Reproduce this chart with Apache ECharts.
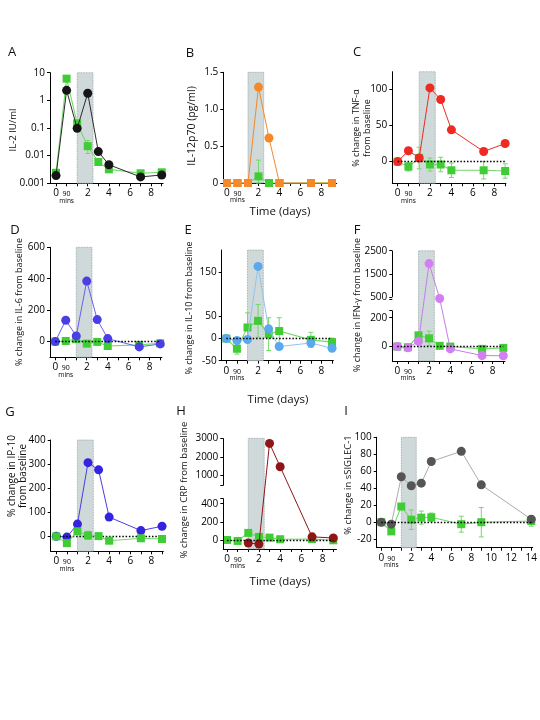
<!DOCTYPE html>
<html><head><meta charset="utf-8">
<script src="https://cdn.jsdelivr.net/npm/echarts@6/dist/echarts.min.js"></script>
<style>html,body{margin:0;padding:0;background:#fff}#c{width:540px;height:720px}</style>
</head><body><div id="c"></div>
<script>
// ---------- time axis (positions on the axis: day 0 = -1, 90 mins = 0, then days) ----------
const timeLabels = ['day 0', '90 mins', 'day 1', 'day 2', 'day 3', 'day 4', 'day 7', 'day 9'];
const timePos = [-1, 0, 1, 2, 3, 4, 7, 9];
const timeLabelsI = ['day 0', '90 mins', 'day 1', 'day 2', 'day 3', 'day 4', 'day 7', 'day 9', 'day 14'];
const timePosI = [-1, 0, 1, 2, 3, 4, 7, 9, 14];
const xTickMarks = [-1, 0, 1, 2, 3, 4, 5, 6, 7, 8, 9];
const xTickMarksI = [-1, 0, 1, 2, 3, 4, 5, 6, 7, 8, 9, 10, 11, 12, 13, 14];
const xTickLabels = [[-1, '0'], [0, '90'], [2, '2'], [4, '4'], [6, '6'], [8, '8']];
const xTickLabelsI = [[-1, '0'], [0, '90'], [2, '2'], [4, '4'], [6, '6'], [8, '8'], [10, '10'], [12, '12'], [14, '14']];
const xUnitLabel = [0, 'mins'];
const shadeWindow = [1, 2.5];

// ---------- A: IL-2 (IU/ml, log) ----------
const il2Patient = [0.0019, 2.3, 0.097, 1.8, 0.014, 0.0047, 0.0017, 0.002];
const il2Green = [0.0024, 6.1, 0.147, 0.022, 0.0059, 0.0032, 0.0023, 0.0025];
const il2GreenLow = [null, null, null, 0.012, null, null, null, 0.0015];
const il2GreenHigh = [null, null, null, 0.035, null, null, null, 0.003];
// ---------- B: IL-12p70 (pg/ml) ----------
const il12Patient = [0, 0, 0, 1.3, 0.61, 0, 0, 0];
const il12Green = [0, 0, 0, 0.09, 0, 0, 0, 0];
const il12GreenLow = [null, null, null, 0, null, null, null, null];
const il12GreenHigh = [null, null, null, 0.31, null, null, null, null];
const il12Ticks = [0, 0.5, 1, 1.5];
const il12TickLabels = ['0', '0.5', '1.0', '1.5'];
// ---------- C: TNF-α ----------
const tnfPatient = [0, 15, 5, 102, 86, 44, 14, 25];
const tnfGreen = [0, -7, 5, -4, -4, -12, -12, -13];
const tnfGreenErr = [0, 6, 15, 9, 10, 10, 12, 10];
const tnfTicks = [0, 50, 100];
// ---------- D: IL-6 ----------
const il6Patient = [0, 136, 36, 385, 140, 19, -34, -15];
const il6Green = [0, 4, 15, -13, -2, -28, -21, -11];
const il6GreenErr = [0, 15, 8, 8, 8, 8, 8, 8];
const il6Ticks = [0, 200, 400, 600];
// ---------- E: IL-10 ----------
const il10Patient = [0, -4.5, -2, 163, 22, -18, -10, -22];
const il10Green = [0, -23, 25, 40, 10, 17, -3, -8];
const il10GreenErr = [0, 12, 33, 37, 37, 30, 17, 9];
const il10Ticks = [-50, 0, 50, 150];
// ---------- F: IFN-γ (broken axis) ----------
const ifnPatient = [0, -9, 37, 1943, 470, -16, -62, -64];
const ifnGreen = [0, -5, 78, 57, 5, 0, -16, -9];
const ifnGreenErr = [0, 5, 10, 50, 8, 5, 5, 5];
const ifnTicks = [0, 200, 500, 1500, 2500];
// ---------- G: IP-10 ----------
const ip10Patient = [0, -3, 51, 306, 276, 80, 24, 42];
const ip10Green = [0, -28, 21, 4, 1, -18, -8, -11];
const ip10GreenErr = [0, 8, 10, 17, 8, 8, 8, 8];
const ip10Ticks = [0, 100, 200, 300, 400];
// ---------- H: CRP (broken axis) ----------
const crpPatient = [null, null, -34, -45, 2727, 1473, 34, 22];
const crpGreen = [0, -11, 78, 34, 26, 8, 10, -4];
const crpGreenErr = [0, 10, 15, 12, 10, 10, 10, 10];
const crpTicks = [0, 200, 400, 1000, 2000, 3000];
// ---------- I: sSIGLEC-1 ----------
const siglecPatient = [0, -2.3, 53.5, 43, 46, 71.5, 83.5, 44, 3.5];
const siglecGreen = [0, -10.8, 18.5, 3, 5.4, 5.8, -2.3, 0, 1.5];
const siglecGreenErr = [0, 3, 3, 11.5, 7.7, 5, 9.4, 17.3, 6.2];
const siglecTicks = [-20, 0, 20, 40, 60, 80, 100];

// ---------- styling / layout ----------
const FONT = '"Open Sans", "Liberation Sans", sans-serif';
const GREEN = '#3fcc35', GREEN_LINE = '#74d86b', SHADE = '#cfd9d9';

function brokenAxis(lowMax, highMin, gap, k) {
  return v => {
    if (v == null) return null;
    if (v <= lowMax) return v;
    if (v < highMin) return lowMax + (v - lowMax) / (highMin - lowMax) * gap;
    return lowMax + gap + (v - highMin) * k;
  };
}
const fF = brokenAxis(250, 500, 94.5, 0.16);
const fH = brokenAxis(460, 460, 141, 0.2055);

const option = {animation: false, backgroundColor: '#fff', grid: [], xAxis: [], yAxis: [], series: [], graphic: []};

function addPanel(p) {
  const gi = option.grid.length;
  const xi = option.xAxis.length;
  const tf = p.transform || (v => v);
  const pos = p.pos || timePos;
  option.grid.push({left: p.box[0], top: p.box[1], width: p.box[2], height: p.box[3], containLabel: false});
  const xLab = new Map(p.xLabels);
  option.xAxis.push({
    gridIndex: gi, type: 'value', position: 'bottom', min: p.xMin, max: p.xMax,
    axisLine: {show: true, onZero: false, lineStyle: {color: '#000', width: 1}},
    axisTick: {show: true, length: 3, customValues: p.xTicks, lineStyle: {color: '#000', width: 1}},
    axisLabel: {
      show: true, interval: 0, customValues: p.xLabels.map(d => d[0]), margin: 5, color: '#000',
      fontFamily: FONT, fontSize: 10, hideOverlap: false, showMinLabel: true, showMaxLabel: true,
      formatter: v => { const t = xLab.get(v); if (v === xUnitLabel[0]) return '{n|' + t + '}'; return t == null ? '' : t; },
      rich: {n: {fontSize: 7, lineHeight: 12, fontFamily: FONT, color: '#000'}}
    },
    splitLine: {show: false}
  });
  // second (label-only) axis carrying the "mins" unit under the 90 label
  option.xAxis.push({
    gridIndex: gi, type: 'value', position: 'bottom', offset: 0, min: p.xMin, max: p.xMax,
    axisLine: {show: false, onZero: false}, axisTick: {show: false}, splitLine: {show: false},
    axisLabel: {show: true, interval: 0, customValues: [xUnitLabel[0]], margin: 14, color: '#000',
      fontFamily: FONT, fontSize: 6.5, formatter: () => xUnitLabel[1], showMinLabel: true, showMaxLabel: true}
  });
  const yLabelPos = p.yTicks ? p.yTicks.map(tf) : undefined;
  const yLabelText = p.yTicks ? (p.yTickLabels || p.yTicks.map(String)) : undefined;
  const ya = {
    gridIndex: gi, type: p.log ? 'log' : 'value', min: p.yMin, max: p.yMax,
    axisLine: {show: !p.segments, onZero: false, lineStyle: {color: '#000', width: 1}},
    axisTick: {show: true, length: 3, lineStyle: {color: '#000', width: 1}},
    axisLabel: {show: true, interval: 0, margin: 5, color: '#000', fontFamily: FONT, fontSize: 10, showMinLabel: true, showMaxLabel: true},
    splitLine: {show: false}
  };
  if (p.log) {
    ya.logBase = 10;
    ya.axisLabel.formatter = v => String(+(+v).toPrecision(2));
  } else {
    ya.axisTick.customValues = yLabelPos.concat(p.extraTicks || []);
    ya.axisLabel.customValues = yLabelPos;
    ya.axisLabel.formatter = v => {
      for (let i = 0; i < yLabelPos.length; i++) if (Math.abs(yLabelPos[i] - v) < 1e-6) return yLabelText[i];
      return '';
    };
  }
  option.yAxis.push(ya);

  // helper series: shaded window, dotted zero line, broken axis segments
  const mlData = [];
  if (p.zeroLine) {
    mlData.push([{coord: [pos[0], tf(0)], lineStyle: {type: [1.5, 1.8], color: '#000', width: 1.4}}, {coord: [pos[pos.length - 1], tf(0)]}]);
  }
  (p.segments || []).forEach(s => {
    mlData.push([{coord: [p.xMin, tf(s[0])], lineStyle: {type: 'solid', color: '#000', width: 1}}, {coord: [p.xMin, tf(s[1])]}]);
  });
  option.series.push({
    type: 'line', xAxisIndex: xi, yAxisIndex: gi, data: [], z: 1, silent: true, clip: false,
    markArea: {silent: true, itemStyle: {color: SHADE, borderColor: '#8e9c9c', borderWidth: 0.8, borderType: 'dotted'},
               data: [[{xAxis: shadeWindow[0]}, {xAxis: shadeWindow[1]}]]},
    markLine: {silent: true, symbol: ['none', 'none'], label: {show: false}, animation: false, data: mlData}
  });

  // error bars for comparator (green) group
  const errData = [];
  pos.forEach((x, i) => {
    if (p.gLow) { if (p.gLow[i] != null) errData.push([x, p.gLow[i], p.gHigh[i]]); }
    else if (p.gErr && p.gErr[i]) errData.push([x, tf(p.green[i] - p.gErr[i]), tf(p.green[i] + p.gErr[i])]);
  });
  option.series.push({
    type: 'custom', xAxisIndex: xi, yAxisIndex: gi, z: 2, silent: true, clip: false,
    data: errData, encode: {x: 0, y: [1, 2]},
    renderItem: (params, api) => {
      const x = api.value(0);
      const a = api.coord([x, api.value(1)]), b = api.coord([x, api.value(2)]);
      const c = 2.5, st = {stroke: GREEN_LINE, lineWidth: 1};
      return {type: 'group', children: [
        {type: 'line', shape: {x1: a[0], y1: a[1], x2: b[0], y2: b[1]}, style: st},
        {type: 'line', shape: {x1: a[0] - c, y1: a[1], x2: a[0] + c, y2: a[1]}, style: st},
        {type: 'line', shape: {x1: b[0] - c, y1: b[1], x2: b[0] + c, y2: b[1]}, style: st}
      ]};
    }
  });

  option.series.push({
    type: 'line', name: 'comparator', xAxisIndex: xi, yAxisIndex: gi, z: p.greenTop ? 5 : 3, silent: true, clip: false,
    data: pos.map((x, i) => [x, tf(p.green[i])]),
    symbol: 'rect', symbolSize: 8, itemStyle: {color: GREEN}, lineStyle: {color: GREEN_LINE, width: 1.1}
  });
  option.series.push({
    type: 'line', name: 'patient', xAxisIndex: xi, yAxisIndex: gi, z: 4, silent: true, clip: false, connectNulls: false,
    data: pos.map((x, i) => [x, tf(p.patient[i])]),
    symbol: p.patientSymbol || 'circle', symbolSize: p.patientSymbolSize || 9,
    itemStyle: {color: p.color}, lineStyle: {color: p.lineColor || p.color, width: 1}
  });
}

addPanel({box: [50, 72.7, 113.1, 110.6], xMin: -1.57, xMax: 9.13, xTicks: xTickMarks, xLabels: xTickLabels,
  log: true, yMin: 0.001, yMax: 10, patient: il2Patient, green: il2Green, gLow: il2GreenLow, gHigh: il2GreenHigh,
  color: '#151515', lineColor: '#2a2a2a'});
addPanel({box: [223.3, 72.3, 113.4, 110.7], xMin: -1.35, xMax: 9.45, xTicks: xTickMarks, xLabels: xTickLabels,
  yMin: 0, yMax: 1.5, yTicks: il12Ticks, yTickLabels: il12TickLabels,
  patient: il12Patient, green: il12Green, gLow: il12GreenLow, gHigh: il12GreenHigh, color: '#f5882b',
  patientSymbol: v => (v[1] === 0 ? 'rect' : 'circle'), patientSymbolSize: v => (v[1] === 0 ? 8 : 9)});
addPanel({box: [392.3, 71.7, 113.6, 111.6], xMin: -1.5, xMax: 9.07, xTicks: xTickMarks, xLabels: xTickLabels,
  yMin: -30, yMax: 124.4, yTicks: tnfTicks, zeroLine: true,
  patient: tnfPatient, green: tnfGreen, gErr: tnfGreenErr, color: '#ee2a22'});
addPanel({box: [50, 247.3, 111.9, 110], xMin: -1.5, xMax: 9.16, xTicks: xTickMarks, xLabels: xTickLabels,
  yMin: -100, yMax: 600, yTicks: il6Ticks, zeroLine: true,
  patient: il6Patient, green: il6Green, gErr: il6GreenErr, color: '#4a3ee6', lineColor: '#6a60ec'});
addPanel({box: [221.7, 250, 111.7, 110.7], xMin: -1.44, xMax: 9.13, xTicks: xTickMarks, xLabels: xTickLabels,
  yMin: -50, yMax: 200, yTicks: il10Ticks, zeroLine: true,
  patient: il10Patient, green: il10Green, gErr: il10GreenErr, color: '#5aa8ee', lineColor: '#92c4f0'});
addPanel({box: [392.3, 250.7, 112.7, 110.3], xMin: -1.47, xMax: 9.16, xTicks: xTickMarks, xLabels: xTickLabels,
  transform: fF, yMin: -100, yMax: fF(2500), yTicks: ifnTicks, extraTicks: [fF(250), fF(500) - 14],
  segments: [[-100, 250], [500, 2500]], zeroLine: true,
  patient: ifnPatient, green: ifnGreen, gErr: ifnGreenErr, color: '#d27ff2', lineColor: '#c77de8'});
addPanel({box: [50.7, 440, 112.6, 111.3], xMin: -1.53, xMax: 9.12, xTicks: xTickMarks, xLabels: xTickLabels,
  yMin: -62, yMax: 400, yTicks: ip10Ticks, zeroLine: true, greenTop: true,
  patient: ip10Patient, green: ip10Green, gErr: ip10GreenErr, color: '#3424e0', lineColor: '#4a3ce4'});
addPanel({box: [223.3, 438.3, 113.2, 110.7], xMin: -1.35, xMax: 9.3, xTicks: xTickMarks, xLabels: xTickLabels,
  transform: fH, yMin: -100, yMax: fH(3000), yTicks: crpTicks, extraTicks: [460, 601],
  segments: [[-100, 460], [460.001, 3000]], zeroLine: true,
  patient: crpPatient, green: crpGreen, gErr: crpGreenErr, color: '#8e1616'});
addPanel({box: [376.7, 437.3, 156, 110.4], xMin: -1.46, xMax: 14.14, xTicks: xTickMarksI, xLabels: xTickLabelsI,
  pos: timePosI, yMin: -30, yMax: 100, yTicks: siglecTicks, zeroLine: true,
  patient: siglecPatient, green: siglecGreen, gErr: siglecGreenErr, color: '#555555', lineColor: '#ababab'});

// ---------- text ----------
function txt(text, x, y, size, rot, lh) {
  option.graphic.push({type: 'text', x: x, y: y, rotation: rot ? Math.PI / 2 : 0, silent: true,
    style: {text: text, fill: '#111', fontFamily: FONT, fontSize: size, align: 'center', verticalAlign: 'middle', lineHeight: lh || size * 1.2}});
}
[['A', 12, 52], ['B', 190, 53], ['C', 357, 52], ['D', 15, 230], ['E', 188, 230], ['F', 357, 230],
 ['G', 10, 412], ['H', 181, 411], ['I', 346, 411]].forEach(d => txt(d[0], d[1], d[2], 13));
txt('Time (days)', 280, 212, 11.5);
txt('Time (days)', 278, 400, 11.5);
txt('Time (days)', 280, 582, 11.5);
txt('IL-2 IU/ml', 13, 130, 9.5, true);
txt('IL-12p70 (pg/ml)', 192, 126, 10.5, true);
txt('% change in TNF-α\nfrom baseline', 362, 128, 9, true, 10.5);
txt('% change in IL-6 from baseline', 19, 302, 9, true);
txt('% change in IL-10 from baseline', 189, 308, 9, true);
txt('% change in IFN-γ from baseline', 357, 305, 9, true);
txt('% change in IP-10\nfrom baseline', 17.5, 476, 10, true, 11);
txt('% change in CRP from baseline', 184, 490, 9.5, true);
txt('% change in sSIGLEC-1', 348, 485, 9.5, true);

const chart = echarts.init(document.getElementById('c'), null, {width: 540, height: 720});
chart.setOption(option);
</script></body></html>
